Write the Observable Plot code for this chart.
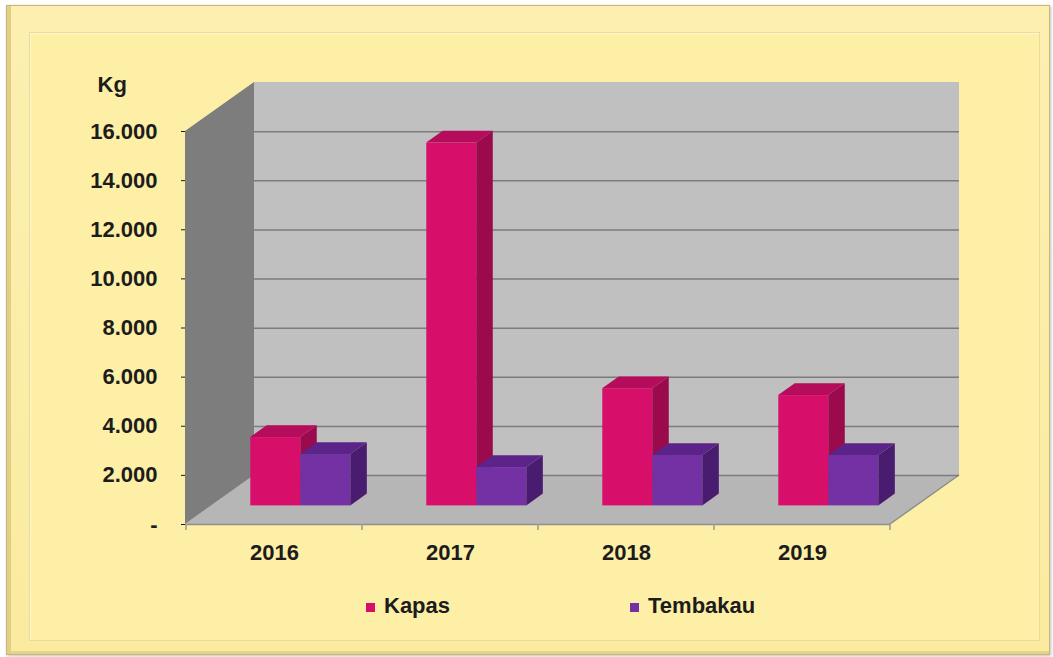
<!DOCTYPE html>
<html>
<head>
<meta charset="utf-8">
<script src="https://cdn.jsdelivr.net/npm/d3@7"></script>
<script src="https://cdn.jsdelivr.net/npm/@observablehq/plot@0.6"></script>
<style>
  html, body { margin: 0; padding: 0; background: #ffffff; }
  #wrap { position: relative; width: 1053px; height: 657px; overflow: hidden; background: #ffffff;
          font-family: "Liberation Sans", Arial, sans-serif; }
  #frame { position: absolute; left: 6px; top: 5px; width: 1044px; height: 650px; box-sizing: border-box;
           background: linear-gradient(#fcefb0, #fbeba0); border: 1px solid #c9b676;
           box-shadow: inset 4px 0 0 #e2cf86, inset 0 -3px 0 #e6d48d, 1px 1px 3px rgba(0,0,0,0.25); }
  #inner { position: absolute; left: 22px; top: 26px; right: 9px; bottom: 13px;
           background: #fdefa6; border: 1px solid #eadb9a;
           box-shadow: inset 1px 1px 0 #fff8cf; }
  #chart { position: absolute; left: 0; top: 0; }
  #legend { position: absolute; left: 366px; top: 593px; display: flex; gap: 180px;
            font-size: 22px; font-weight: bold; color: #1c1c1c; }
  #legend .item { display: flex; align-items: center; }
  #legend .sw { width: 9px; height: 9px; margin-right: 9px; margin-top: 2px; }
</style>
</head>
<body>
<div id="wrap">
  <div id="frame"><div id="inner"></div></div>
  <div id="chart"></div>
  <div id="legend"></div>
</div>
<script>
// ---- data ----
const years = ["2016", "2017", "2018", "2019"];
const series = ["Kapas", "Tembakau"];
const kapas = [2780, 14770, 4770, 4490];
const tembakau = [2090, 1560, 2050, 2050];
const yTicks = [0, 2000, 4000, 6000, 8000, 10000, 12000, 14000, 16000];
const gridTicks = [0, 2000, 4000, 6000, 8000, 10000, 12000, 14000];
const unitLabel = "Kg";

// ---- styling ----
const frontColors = ["#d80e6b", "#7331a4"];
const sideColors = ["#9a0a4c", "#4a1c70"];
const topColors = ["#b50c5b", "#5c2489"];

const W = 1053, H = 580;
const mL = 185, mR = 163, mT = 131, mB = 56;
const DX = 69, DY = -49;            // full depth of the 3D box
const F0 = 0.38, F1 = 0.62;          // bars sit between these depth fractions
const FDX = DX * F0, FDY = DY * F0;
const BDX = DX * (F1 - F0), BDY = DY * (F1 - F0);
const BW = (W - mL - mR) / years.length;
const BAR_W = BW * 0.284;

const rowsBySeries = [
  years.map((year, i) => ({year, series: series[0], value: kapas[i]})),
  years.map((year, i) => ({year, series: series[1], value: tembakau[i]}))
];

const fmt = d => d === 0 ? "-" : d3.format(",")(d).replace(/,/g, ".");

// walls and floor of the 3D box, from the scales
function walls(index, scales, values, dim) {
  const {y} = scales;
  const x0 = dim.marginLeft, x1 = dim.width - dim.marginRight;
  const y0 = y(0), yT = y(yTicks[yTicks.length - 1]);
  const g = d3.create("svg:g");
  g.append("rect").attr("x", x0 + DX).attr("y", yT + DY).attr("width", x1 - x0).attr("height", y0 - yT)
    .attr("fill", "#c0c0c0");
  g.append("path").attr("d", `M${x0},${y0}L${x1},${y0}L${x1 + DX},${y0 + DY}L${x0 + DX},${y0 + DY}Z`)
    .attr("fill", "#b6b6b6");
  g.append("path").attr("d", `M${x1},${y0}L${x1 + DX},${y0 + DY}`).attr("stroke", "#8e8e8e").attr("stroke-width", 1.5);
  g.append("path").attr("d", `M${x0},${y0}L${x0},${yT}L${x0 + DX},${yT + DY}L${x0 + DX},${y0 + DY}Z`)
    .attr("fill", "#7d7d7d");
  return g.node();
}

// side and top faces of the bars of one series
function faces(k) {
  return (index, scales) => {
    const {x, y} = scales;
    const bw = x.bandwidth();
    const g = d3.create("svg:g");
    for (const d of rowsBySeries[k]) {
      const xl = x(d.year) + bw / 2 + (k - 1) * BAR_W + FDX;
      const xr = xl + BAR_W;
      const yt = y(d.value) + FDY, yb = y(0) + FDY;
      g.append("path").attr("fill", sideColors[k])
        .attr("d", `M${xr},${yb}L${xr},${yt}L${xr + BDX},${yt + BDY}L${xr + BDX},${yb + BDY}Z`);
      g.append("path").attr("fill", topColors[k])
        .attr("d", `M${xl},${yt}L${xr},${yt}L${xr + BDX},${yt + BDY}L${xl + BDX},${yt + BDY}Z`);
    }
    return g.node();
  };
}

// category boundary ticks under the floor
function catTicks(index, scales) {
  const {x, y} = scales;
  const bw = x.bandwidth();
  const g = d3.create("svg:g").attr("stroke", "#9a9a9a").attr("stroke-width", 1.5);
  const xs = years.map(v => x(v)).concat([x(years[years.length - 1]) + bw]);
  for (const xv of xs) g.append("line").attr("x1", xv).attr("x2", xv).attr("y1", y(0)).attr("y2", y(0) + 6);
  return g.node();
}

function frontBars(k) {
  const left = k === 0 ? BW / 2 - BAR_W : BW / 2;
  const right = k === 0 ? BW / 2 : BW / 2 - BAR_W;
  return Plot.barY(rowsBySeries[k], {
    x: "year", y: "value", fill: frontColors[k],
    insetLeft: left, insetRight: right, dx: FDX, dy: FDY
  });
}

const chart = Plot.plot({
  width: W, height: H,
  marginLeft: mL, marginRight: mR, marginTop: mT, marginBottom: mB,
  x: {domain: years, padding: 0, tickSize: 0, tickPadding: 20, label: null},
  y: {domain: [0, 16000], ticks: yTicks, tickFormat: fmt, tickSize: 4, tickPadding: 24, label: null},
  style: {
    background: "transparent", overflow: "visible",
    fontFamily: "'Liberation Sans', Arial, sans-serif", fontSize: "22px", fontWeight: "bold", color: "#1c1c1c"
  },
  marks: [
    walls,
    Plot.ruleY(gridTicks, {dx: DX, dy: DY, stroke: "#7c7c7c", strokeWidth: 1.5}),
    Plot.ruleY([0], {stroke: "#8e8e8e", strokeWidth: 1.5}),
    frontBars(0), faces(0),
    frontBars(1), faces(1),
    catTicks,
    Plot.text([unitLabel], {frameAnchor: "top-left", dx: -88, dy: -55, textAnchor: "start",
      fontSize: 22, fontWeight: "bold", fill: "#1c1c1c"})
  ]
});
document.getElementById("chart").appendChild(chart);

// legend
const legend = d3.select("#legend");
series.forEach((s, i) => {
  const item = legend.append("div").attr("class", "item");
  item.append("div").attr("class", "sw").style("background", frontColors[i]);
  item.append("span").text(s);
});
</script>
</body>
</html>
